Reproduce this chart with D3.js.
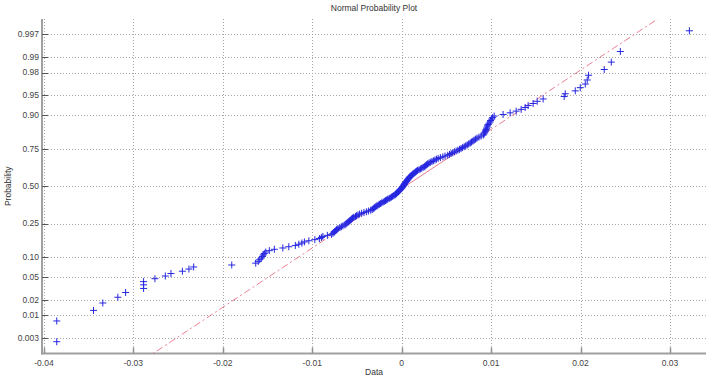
<!DOCTYPE html>
<html>
<head>
<meta charset="utf-8">
<script src="https://cdn.jsdelivr.net/npm/d3@7"></script>
<style>
  body{margin:0;background:#fff;}
  svg{display:block;}
  text{font-family:"Liberation Sans",Arial,sans-serif;}
</style>
</head>
<body>
<svg></svg>
<script>
// sorted sample
var sample = [
  -0.03857,-0.03857,-0.03446,-0.03342,-0.03174,-0.03087,-0.02886,-0.02886,-0.02886,-0.02759,
  -0.02643,-0.02580,-0.02452,-0.02379,-0.02326,-0.01900,-0.01632,-0.01604,-0.01587,-0.01570,
  -0.01557,-0.01548,-0.01536,-0.01520,-0.01480,-0.01424,-0.01329,-0.01262,-0.01189,-0.01150,
  -0.01116,-0.01088,-0.01038,-0.00971,-0.00920,-0.00898,-0.00881,-0.00831,-0.00786,-0.00769,
  -0.00756,-0.00747,-0.00736,-0.00727,-0.00713,-0.00691,-0.00674,-0.00657,-0.00635,-0.00624,
  -0.00613,-0.00601,-0.00590,-0.00579,-0.00568,-0.00560,-0.00550,-0.00536,-0.00517,-0.00506,
  -0.00489,-0.00471,-0.00448,-0.00422,-0.00395,-0.00372,-0.00346,-0.00329,-0.00318,-0.00307,
  -0.00299,-0.00288,-0.00277,-0.00263,-0.00249,-0.00235,-0.00223,-0.00207,-0.00194,-0.00181,
  -0.00168,-0.00156,-0.00140,-0.00128,-0.00114,-0.00101,-0.00088,-0.00075,-0.00067,-0.00059,
  -0.00052,-0.00044,-0.00036,-0.00028,-0.00020,-0.00012,-0.00004,0.00002,0.00007,0.00013,
  0.00018,0.00024,0.00028,0.00032,0.00038,0.00044,0.00049,0.00056,0.00062,0.00067,
  0.00074,0.00080,0.00085,0.00091,0.00100,0.00109,0.00118,0.00127,0.00138,0.00147,
  0.00156,0.00165,0.00177,0.00194,0.00209,0.00224,0.00239,0.00253,0.00263,0.00272,
  0.00281,0.00291,0.00305,0.00320,0.00338,0.00354,0.00372,0.00390,0.00408,0.00433,
  0.00461,0.00485,0.00515,0.00535,0.00553,0.00571,0.00591,0.00609,0.00629,0.00647,
  0.00664,0.00681,0.00699,0.00717,0.00733,0.00750,0.00766,0.00781,0.00796,0.00810,
  0.00825,0.00842,0.00864,0.00888,0.00913,0.00920,0.00927,0.00934,0.00940,0.00944,
  0.00950,0.00955,0.00961,0.00966,0.00978,0.00989,0.00994,0.01006,0.01017,0.01034,
  0.01134,0.01213,0.01280,0.01336,0.01381,0.01414,0.01470,0.01515,0.01582,0.01817,
  0.01829,0.01941,0.01997,0.02053,0.02075,0.02090,0.02265,0.02344,0.02445,0.03217
];

var probTicks = [0.003,0.01,0.02,0.05,0.10,0.25,0.50,0.75,0.90,0.95,0.98,0.99,0.997];
var probLabels = ["0.003","0.01","0.02","0.05","0.10","0.25","0.50","0.75","0.90","0.95","0.98","0.99","0.997"];
var dataTicks = [-0.04,-0.03,-0.02,-0.01,0,0.01,0.02,0.03];
var dataLabels = ["-0.04","-0.03","-0.02","-0.01","0","0.01","0.02","0.03"];

// reference line: data value at the quartiles
var refProb = [0.25,0.75];
var refData = [-0.00589,0.00671];

graph();

// inverse normal cdf (Acklam)
function probit(p){
  var a=[-39.69683028665376,220.9460984245205,-275.9285104469687,138.3577518672690,-30.66479806614716,2.506628277459239];
  var b=[-54.47609879822406,161.5858368580409,-155.6989798598866,66.80131188771972,-13.28068155288572];
  var c=[-0.007784894002430293,-0.3223964580411365,-2.400758277161838,-2.549732539343734,4.374664141464968,2.938163982698783];
  var d=[0.007784695709041462,0.3224671290700398,2.445134137142996,3.754408661907416];
  var q,r;
  if(p<0.02425){
    q=Math.sqrt(-2*Math.log(p));
    return (((((c[0]*q+c[1])*q+c[2])*q+c[3])*q+c[4])*q+c[5])/((((d[0]*q+d[1])*q+d[2])*q+d[3])*q+1);
  }
  if(p>1-0.02425){
    q=Math.sqrt(-2*Math.log(1-p));
    return -(((((c[0]*q+c[1])*q+c[2])*q+c[3])*q+c[4])*q+c[5])/((((d[0]*q+d[1])*q+d[2])*q+d[3])*q+1);
  }
  q=p-0.5; r=q*q;
  return (((((a[0]*r+a[1])*r+a[2])*r+a[3])*r+a[4])*r+a[5])*q/(((((b[0]*r+b[1])*r+b[2])*r+b[3])*r+b[4])*r+1);
}

function graph(){
  var width = 718, height = 378;
  var left = 42, right = 706, top = 19, bottom = 353.5;

  var svg = d3.select("svg")
              .attr("width",width)
              .attr("height",height);

  var x = d3.scaleLinear().domain([-0.04022,0.03403]).range([left,right]);
  var z = d3.scaleLinear().domain([-3.02,3.02]).range([bottom,top]);
  function y(p){ return z(probit(p)); }

  svg.append("clipPath").attr("id","plotclip")
     .append("rect")
     .attr("x",left).attr("y",top)
     .attr("width",right-left).attr("height",bottom-top);

  // grid
  var grid = svg.append("g").attr("class","grid");
  grid.selectAll("line.h")
      .data(probTicks)
      .enter().append("line")
      .attr("x1",left).attr("x2",right)
      .attr("y1",function(d){return Math.round(y(d))+0.5;})
      .attr("y2",function(d){return Math.round(y(d))+0.5;});
  grid.selectAll("line.v")
      .data(dataTicks)
      .enter().append("line")
      .attr("x1",function(d){return Math.round(x(d))+0.5;})
      .attr("x2",function(d){return Math.round(x(d))+0.5;})
      .attr("y1",top).attr("y2",bottom);
  grid.selectAll("line")
      .attr("stroke","#a4a4a4")
      .attr("stroke-width",1)
      .attr("stroke-dasharray","1,2");

  // axes
  var gy = svg.append("g").attr("transform","translate("+left+",0)");
  gy.append("line")
    .attr("x1",0).attr("x2",0).attr("y1",top).attr("y2",bottom+1)
    .attr("stroke","#a0a0a0").attr("stroke-width",2);
  gy.selectAll("line.tick")
    .data(probTicks)
    .enter().append("line")
    .attr("x1",0).attr("x2",6)
    .attr("y1",function(d){return Math.round(y(d))+0.5;})
    .attr("y2",function(d){return Math.round(y(d))+0.5;})
    .attr("stroke","#555").attr("stroke-width",1);
  gy.selectAll("text")
    .data(probTicks)
    .enter().append("text")
    .attr("x",-3)
    .attr("y",function(d){return y(d);})
    .attr("dy","0.33em")
    .attr("text-anchor","end")
    .attr("font-size","8.5px")
    .attr("fill","#444")
    .text(function(d,i){return probLabels[i];});

  var gx = svg.append("g").attr("transform","translate(0,"+bottom+")");
  gx.append("line")
    .attr("x1",left-1).attr("x2",right).attr("y1",0).attr("y2",0)
    .attr("stroke","#a0a0a0").attr("stroke-width",2);
  gx.selectAll("line.tick")
    .data(dataTicks)
    .enter().append("line")
    .attr("x1",function(d){return Math.round(x(d))+0.5;})
    .attr("x2",function(d){return Math.round(x(d))+0.5;})
    .attr("y1",0).attr("y2",-6)
    .attr("stroke","#909090").attr("stroke-width",1.5);
  gx.selectAll("text")
    .data(dataTicks)
    .enter().append("text")
    .attr("x",function(d){return x(d);})
    .attr("y",12)
    .attr("text-anchor","middle")
    .attr("font-size","8.5px")
    .attr("fill","#444")
    .text(function(d,i){return dataLabels[i];});

  // reference line
  var zr = refProb.map(probit);
  var sigma = (refData[1]-refData[0])/(zr[1]-zr[0]);
  var mu = refData[0]-sigma*zr[0];
  function fitZ(v){ return z((v-mu)/sigma); }
  var lo = d3.min(sample), hi = d3.max(sample);

  var fit = svg.append("g").attr("clip-path","url(#plotclip)");
  fit.selectAll("line")
     .data([[lo,refData[0],"7,3,2,3"],[refData[0],refData[1],null],[refData[1],hi,"7,3,2,3"]])
     .enter().append("line")
     .attr("x1",function(d){return x(d[0]);})
     .attr("y1",function(d){return fitZ(d[0]);})
     .attr("x2",function(d){return x(d[1]);})
     .attr("y2",function(d){return fitZ(d[1]);})
     .attr("stroke","#e0405a")
     .attr("stroke-opacity",0.85)
     .attr("stroke-width",0.8)
     .attr("stroke-dasharray",function(d){return d[2];});

  // markers
  var n = sample.length;
  svg.append("g")
     .selectAll("path")
     .data(sample)
     .enter().append("path")
     .attr("transform",function(d,i){
       return "translate("+x(d)+","+y((i+0.5)/n)+")";
     })
     .attr("d","M-3.5,0H3.5M0,-3.5V3.5")
     .attr("stroke","#2626e0")
     .attr("stroke-width",1)
     .attr("fill","none");

  // labels
  svg.append("text")
     .attr("x",(left+right)/2).attr("y",11)
     .attr("text-anchor","middle")
     .attr("font-size","8.5px").attr("fill","#333")
     .text("Normal Probability Plot");
  svg.append("text")
     .attr("x",(left+right)/2).attr("y",375)
     .attr("text-anchor","middle")
     .attr("font-size","8.5px").attr("fill","#333")
     .text("Data");
  svg.append("text")
     .attr("transform","translate(11,"+z(0)+") rotate(-90)")
     .attr("text-anchor","middle")
     .attr("font-size","8.5px").attr("fill","#333")
     .text("Probability");
}
</script>
</body>
</html>
